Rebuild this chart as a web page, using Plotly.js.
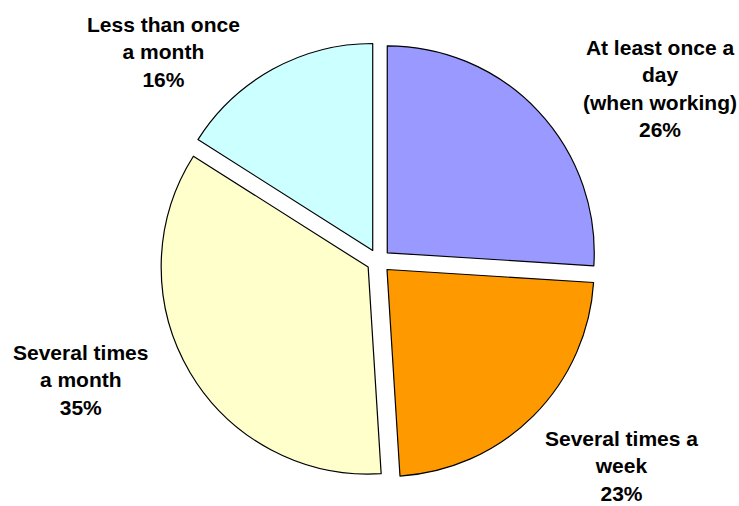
<!DOCTYPE html>
<html>
<head>
<meta charset="utf-8">
<script src="https://cdn.plot.ly/plotly-3.0.1.min.js"></script>
<style>html,body{margin:0;padding:0;background:#fff;}#chart{width:739px;height:506px;}</style>
</head>
<body>
<div id="chart"></div>
<script>
const categories = ["At least once a day (when working)", "Several times a week", "Several times a month", "Less than once a month"];
const labelLines = [["At least once a", "day", "(when working)"], ["Several times a", "week"], ["Several times", "a month"], ["Less than once", "a month"]];
const values = [26, 23, 35, 16];
const colors = ["#9999FF", "#FF9900", "#FFFFCC", "#CCFFFF"];

const W = 739, H = 506;
const labelPos = [[660, 89], [621, 466], [80, 380], [163, 52]];

const annotations = categories.map((c, i) => ({
  x: labelPos[i][0] / W,
  y: 1 - labelPos[i][1] / H,
  xref: 'paper', yref: 'paper',
  xanchor: 'center', yanchor: 'middle',
  showarrow: false,
  align: 'center',
  text: '<b>' + labelLines[i].concat([values[i] + '%']).join('<br>') + '</b>',
  font: {family: 'Liberation Sans, Arial, sans-serif', size: 21, color: '#000'}
}));

const cx = 378.5, cy = 261, half = 219;
Plotly.newPlot('chart', [{
  type: 'pie',
  labels: categories,
  values: values,
  sort: false,
  direction: 'clockwise',
  rotation: 0,
  pull: [0.058, 0.058, 0.058, 0.058],
  marker: {colors: colors, line: {color: '#000', width: 1.2}},
  textinfo: 'none',
  hoverinfo: 'label+percent',
  domain: {x: [(cx - half) / W, (cx + half) / W], y: [1 - (cy + half) / H, 1 - (cy - half) / H]}
}], {
  width: W, height: H,
  margin: {l: 0, r: 0, t: 0, b: 0},
  showlegend: false,
  paper_bgcolor: '#fff',
  annotations: annotations
}, {displayModeBar: false, staticPlot: true});
</script>
</body>
</html>
